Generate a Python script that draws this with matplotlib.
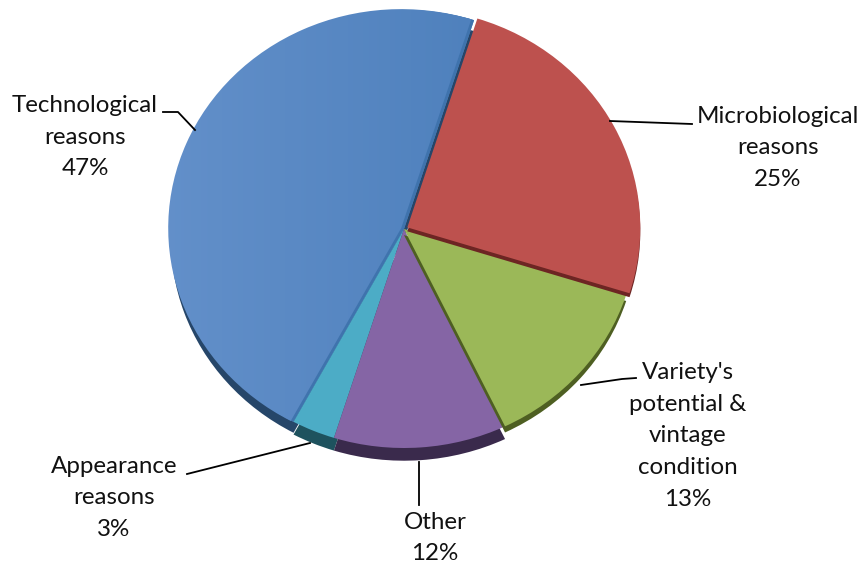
import numpy as np
import matplotlib
matplotlib.use("Agg")
import matplotlib.pyplot as plt
from matplotlib.colors import LinearSegmentedColormap

# Data, clockwise from the top
categories = ["Microbiological\nreasons\n25%", "Variety's\npotential &\nvintage\ncondition\n13%",
              "Other\n12%", "Appearance\nreasons\n3%", "Technological\nreasons\n47%"]
values = [25, 13, 12, 3, 47]
colors = ["#bd514e", "#9bb858", "#8565a5", "#4cacc6", "#5685c1"]
dark_colors = ["#6d2523", "#4e5f22", "#3a2a4c", "#1e525e", "#264669"]

W, H = 863, 565
cx, cy, rx, ry = 404, 229, 233, 219
margin = 1.1

fig = plt.figure(figsize=(W / 100, H / 100), dpi=100)

# pie axes, stretched so the circle turns into an ellipse
ax = fig.add_axes([(cx - rx * margin) / W, 1 - (cy + ry * margin) / H,
                   2 * rx * margin / W, 2 * ry * margin / H])

explode = [0.016, 0, 0, 0, 0]
start = 90 - 17.5
depth = [0.018, 0.028, 0.058, 0.058, 0.05]
order = [4, 3, 2, 1, 0]  # back to front, later slices throw their wall on earlier ones

z = 1
for i in order:
    # wall of the slice, a darker copy pushed down
    dark, _ = ax.pie(values, colors=dark_colors, startangle=start, counterclock=False,
                     center=(0, -depth[i]), radius=1, explode=explode)
    top, _ = ax.pie(values, colors=colors, startangle=start, counterclock=False,
                    radius=1, explode=explode)
    for j in range(len(values)):
        if j != i:
            dark[j].set_visible(False)
            top[j].set_visible(False)
    dark[i].set_zorder(z)
    top[i].set_zorder(z + 2)
    if i == 4:
        # darker strip inside the blue slice along its straight sides
        inner, _ = ax.pie(values, colors=["#3f73ad"] * 5, startangle=start, counterclock=False,
                          radius=1)
        for j in range(len(values)):
            inner[j].set_visible(j == i)
        inner[i].set_zorder(z + 3)
        # soft gradient on the big slice, shifted a little so the strip stays visible
        cmap = LinearSegmentedColormap.from_list("blue", ["#6390ca", "#4f81bd"])
        im = ax.imshow(np.linspace(0, 1, 256).reshape(1, -1), extent=(-1.05, 0.3, -1.05, 1.05),
                       cmap=cmap, aspect="auto", zorder=z + 4)
        shape, _ = ax.pie(values, colors=colors, startangle=start, counterclock=False,
                          center=(-0.012, 0.004), radius=1)
        for j in range(len(values)):
            shape[j].set_visible(False)
        im.set_clip_path(shape[i].get_path(), shape[i].get_transform())
    z += 5

ax.set_aspect("auto")
ax.set_xlim(-margin, margin)
ax.set_ylim(-margin, margin)
ax.axis("off")

# overlay in picture pixels for labels and leader lines
ov = fig.add_axes([0, 0, 1, 1], facecolor="none")
ov.set_xlim(0, W)
ov.set_ylim(H, 0)
ov.axis("off")

fs = 17.4
fam = ["Lato", "DejaVu Sans"]
label_pos = [(778, 148), (688, 436), (435, 538), (114, 498), (85, 137)]
for text, (x, y) in zip(categories, label_pos):
    ov.text(x, y, text, ha="center", va="center", fontsize=fs, family=fam,
            color="#111111", linespacing=1.62)

leaders = [
    ([610, 692], [121, 124]),
    ([581, 622, 636], [385, 379, 378]),
    ([419, 419], [462, 505]),
    ([187, 310], [474, 443]),
    ([163, 178, 195], [112, 112, 130]),
]
for xs, ys in leaders:
    ov.plot(xs, ys, color="black", lw=1.3)

fig.savefig("out.png", dpi=100)
